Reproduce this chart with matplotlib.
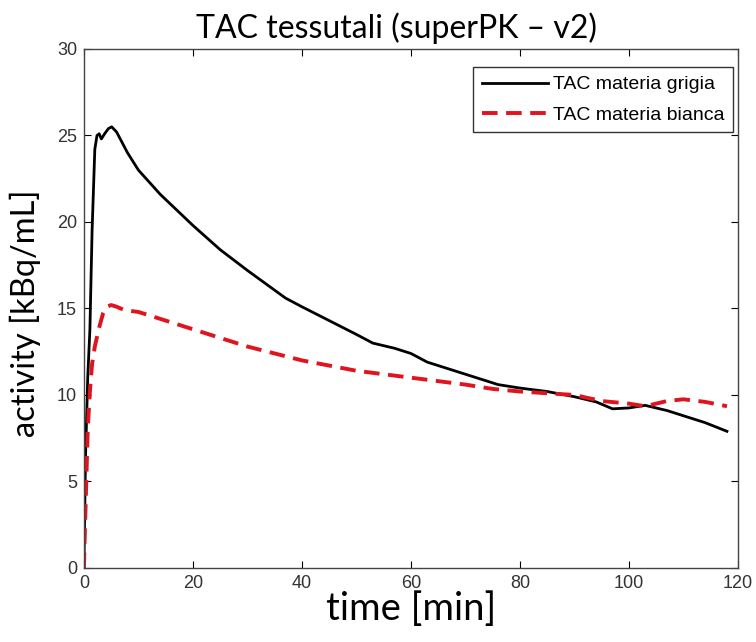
import numpy as np
import matplotlib as mpl
mpl.use("agg")
import matplotlib.pyplot as plt

# time [min] and activity [kBq/mL]
t_grey = [0, 0.3, 0.7, 1.1, 1.5, 2.0, 2.4, 2.8, 3.2, 3.8, 4.5, 5.1, 6.0, 8, 10, 14, 20,
          25, 30, 37, 40, 45, 50, 53, 57, 60, 63, 67, 70, 76, 80, 85, 90, 94, 97,
          100, 103, 107, 110, 114, 118]
act_grey = [0, 6.5, 11.0, 13.8, 19.5, 24.2, 25.0, 25.1, 24.8, 25.1, 25.4, 25.5, 25.2, 24.0,
            23.0, 21.6, 19.8, 18.4, 17.2, 15.6, 15.1, 14.3, 13.5, 13.0, 12.7, 12.4,
            11.9, 11.5, 11.2, 10.6, 10.4, 10.2, 9.9, 9.6, 9.2, 9.25, 9.4, 9.1, 8.8, 8.4, 7.9]

t_white = [0, 0.3, 0.7, 1.1, 1.5, 2.0, 2.8, 3.5, 4.2, 5.0, 6.0, 7.5, 10, 15, 20, 25,
           30, 35, 40, 45, 50, 55, 60, 65, 70, 75, 80, 85, 90, 95, 100, 103, 107,
           110, 114, 118]
act_white = [0, 3.5, 8.0, 10.2, 11.8, 12.8, 13.9, 14.7, 15.1, 15.2, 15.1, 14.9, 14.8, 14.3, 13.8,
             13.3, 12.8, 12.4, 12.0, 11.7, 11.4, 11.2, 11.0, 10.8, 10.6, 10.35, 10.2,
             10.1, 10.0, 9.65, 9.5, 9.35, 9.65, 9.75, 9.6, 9.35]

fig = plt.figure(figsize=(7.56, 6.42), dpi=100)
ax = fig.add_axes([0.111, 0.1153, 0.865, 0.8084])

ax.plot(t_grey, act_grey, color="black", lw=2.0, label="TAC materia grigia")
ax.plot(t_white, act_white, color="#e0141e", lw=2.8, ls=(0, (4, 2.2)),
        label="TAC materia bianca")

ax.set_xlim(0, 120)
ax.set_ylim(0, 30)
ax.set_xticks(np.arange(0, 121, 20))
ax.set_yticks(np.arange(0, 31, 5))
ax.tick_params(direction="in", top=True, right=True, length=5, width=0.8,
               labelsize=13, pad=5)
for lab in ax.get_xticklabels() + ax.get_yticklabels():
    lab.set_family("Liberation Sans")
    lab.set_color("#333333")
for sp in ax.spines.values():
    sp.set_linewidth(1.0)
    sp.set_color("#444444")

ax.set_xlabel("time [min]", fontsize=27.5, family="Lato", labelpad=-1)
ax.set_ylabel("activity [kBq/mL]", fontsize=23.5, family="Lato")
ax.yaxis.set_label_coords(-0.066, 0.49)
ax.set_title("TAC tessutali (superPK \u2013 v2)", fontsize=23, family="Lato", pad=8,
             x=0.478)

leg = ax.legend(loc="upper right", bbox_to_anchor=(0.9924, 0.9653),
                prop={"family": "Liberation Sans", "size": 14},
                fancybox=False, edgecolor="#333333", framealpha=1,
                handlelength=3.4, handletextpad=0.25, borderaxespad=0,
                borderpad=0.45, labelspacing=0.65)
leg.get_frame().set_linewidth(1.0)

fig.savefig("out.png", dpi=100)
